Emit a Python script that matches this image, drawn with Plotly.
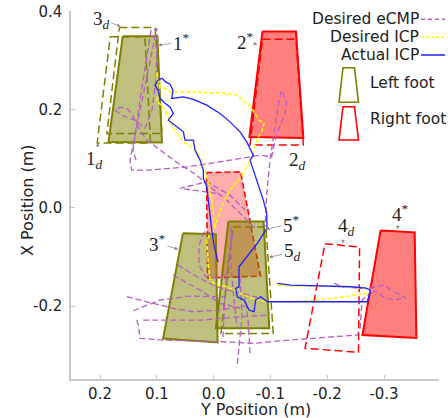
import plotly.graph_objects as go

# ---------------- data (Y position on horizontal axis, X position on vertical axis, metres) ----------------
x_ticks = [0.2, 0.1, 0.0, -0.1, -0.2, -0.3]
x_tick_text = ["0.2", "0.1", "0.0", "-0.1", "-0.2", "-0.3"]
y_ticks = [0.4, 0.2, 0.0, -0.2]
y_tick_text = ["0.4", "0.2", "0.0", "-0.2"]

# footprints (corner points)
foot_1_star = [(0.160, 0.349), (0.099, 0.349), (0.091, 0.133), (0.185, 0.134)]
foot_1_des = [(0.182, 0.348), (0.121, 0.348), (0.111, 0.132), (0.205, 0.132)]
foot_3_des = [(0.166, 0.367), (0.103, 0.367), (0.091, 0.151), (0.188, 0.151)]
foot_3_star = [(0.054, -0.052), (-0.004, -0.054), (-0.007, -0.274), (0.089, -0.266)]
foot_5_star = [(-0.026, -0.028), (-0.088, -0.028), (-0.098, -0.245), (-0.004, -0.245)]
foot_5_des = [(-0.034, -0.039), (-0.092, -0.039), (-0.105, -0.256), (-0.013, -0.256)]
foot_2_star = [(-0.086, 0.359), (-0.145, 0.359), (-0.158, 0.142), (-0.063, 0.144)]
foot_2_des = [(-0.086, 0.343), (-0.145, 0.343), (-0.158, 0.128), (-0.064, 0.128)]
foot_4_star = [(-0.294, -0.046), (-0.354, -0.050), (-0.357, -0.265), (-0.262, -0.259)]
foot_4_des = [(-0.196, -0.073), (-0.257, -0.080), (-0.255, -0.294), (-0.161, -0.286)]
foot_right_start = [(0.0125, 0.0716), (-0.0474, 0.0732), (-0.0826, -0.1389), (0.0107, -0.1430)]

# desired eCMP (pieces separated by None)
ecmp = [
    (-0.0729, -0.0413), (-0.0465, -0.0108), (-0.0231, 0.0157), (0.0063, 0.0427), (0.0298, 0.0665),
    (0.0621, 0.0903), (0.0944, 0.1174), (0.1178, 0.1377), (0.1296, 0.1580), (0.1384, 0.1784),
    (0.1472, 0.1818), (0.1560, 0.1851), (0.1618, 0.1885), (0.1736, 0.1987), (0.1648, 0.2042),
    (0.1530, 0.2022), (0.1442, 0.1920), (0.1384, 0.1784), (0.1208, 0.1621), (0.1085, 0.1987),
    (0.1014, 0.2597), (0.0997, 0.3411), (0.1002, 0.3655), (0.1472, 0.0970), (0.1442, 0.0767),
    (0.1120, 0.0767), (0.0474, 0.0834), (-0.0113, 0.0936), (-0.0817, 0.1072), (-0.1023, 0.1037),
    (-0.1081, 0.1377), (-0.1139, 0.1580), (-0.1257, 0.1920), (-0.1287, 0.2156), (-0.1199, 0.2394),
    (-0.1151, 0.2190), (-0.0993, 0.0970), (-0.0935, 0.0293), (-0.0905, -0.0386),
    None,
    (0.1102, 0.3614), (0.1296, 0.2190), (0.1419, 0.1174), (0.1366, 0.0970),
    None,
    (-0.0055, 0.0293), (0.0592, 0.0395), (0.0121, 0.0529), (-0.0289, 0.0258), (-0.0553, -0.0047),
    None,
    (-0.0007, -0.0515), (0.0169, -0.0494), (0.0257, -0.0759), (0.0257, -0.1165), (0.0151, -0.1389),
    (-0.0060, -0.1430), (-0.0218, -0.1369),
    None,
    (0.0627, -0.1165), (0.0298, -0.1403), (-0.0055, -0.1607), (-0.0324, -0.1694), (-0.0817, -0.1837),
    None,
    (0.0715, -0.1369), (0.0239, -0.1674), (-0.0113, -0.1944), (-0.0465, -0.2040),
    None,
    (0.1530, -0.1810), (0.1062, -0.1944), (0.0710, -0.2046), (0.0357, -0.2115), (-0.0113, -0.2081),
    (-0.0553, -0.1999),
    None,
    (0.1414, -0.2095), (0.0944, -0.1877), (0.0415, -0.1796), (-0.0201, -0.1816),
    None,
    (0.1238, -0.2284), (0.0768, -0.2284), (0.0181, -0.2284), (-0.0465, -0.2217), (-0.0993, -0.2182),
    None,
    (0.1354, -0.2284), (0.1326, -0.2386), (0.1296, -0.2656), (0.0886, -0.2691), (-0.0113, -0.2725),
    (-0.0699, -0.2758), (-0.1345, -0.2691), (-0.2225, -0.2609), (-0.2525, -0.2589), (-0.2577, -0.2487),
    (-0.2595, -0.2142), (-0.2613, -0.1877), (-0.2789, -0.1715),
    None,
    (-0.0465, -0.1409), (-0.0500, -0.2223), (-0.0412, -0.3240),
    None,
    (-0.0553, -0.1741), (-0.0611, -0.2351), (-0.0641, -0.2961),
    None,
    (-0.0306, -0.0393), (-0.0306, -0.1206), (-0.0359, -0.1877), (-0.0412, -0.2426),
    None,
    (-0.2120, -0.1531), (-0.2243, -0.1607), (-0.2595, -0.1639), (-0.2754, -0.1633), (-0.3000, -0.1572),
    (-0.3123, -0.1674), (-0.3387, -0.1837), (-0.3176, -0.1877), (-0.3000, -0.1816), (-0.2877, -0.1715),
    (-0.2754, -0.1674),
    None,
    (-0.0342, -0.0515), (-0.0254, -0.1064), (-0.0201, -0.1735), (-0.0165, -0.2630),
]

# desired ICP
icp_desired = [
    (-0.0025, -0.0386), (0.0033, 0.0157), (0.0093, 0.0496), (0.0151, 0.0767), (0.0239, 0.1037),
    (0.0357, 0.1208), (0.0533, 0.1342), (0.0710, 0.1621), (0.0856, 0.1987), (0.1002, 0.2190),
    (0.0944, 0.2461), (0.1002, 0.2766), (0.0979, 0.2516), (0.0768, 0.2359), (0.0357, 0.2359),
    (-0.0183, 0.2327), (-0.0417, 0.2292), (-0.0653, 0.2054), (-0.0799, 0.1784), (-0.0887, 0.1716),
    (-0.0857, 0.1581), (-0.0759, 0.1377), (-0.0699, 0.1106), (-0.0583, 0.0834), (-0.0465, 0.0604),
    (-0.0289, 0.0360), (-0.0143, 0.0020), (-0.0025, -0.0386), (0.0033, -0.0488), (0.0121, -0.0657),
    (0.0093, -0.1165), (0.0063, -0.1436), (0.0005, -0.1538), (-0.0231, -0.1607), (-0.0465, -0.1741),
    (-0.0759, -0.1877), (-0.0963, -0.1912), (-0.1357, -0.1912), (-0.1944, -0.1867), (-0.2701, -0.1741),
    (-0.2806, -0.1674), (-0.2648, -0.1639), (-0.1944, -0.1592), (-0.1345, -0.1592), (-0.1121, -0.1572),
]

# actual ICP
icp_actual = [
    (-0.0077, -0.1104), (-0.0007, -0.0759), (0.0033, -0.0454), (0.0063, -0.0114), (0.0093, 0.0157),
    (0.0121, 0.0427), (0.0181, 0.0598), (0.0181, 0.0767), (0.0239, 0.0970), (0.0327, 0.1174),
    (0.0357, 0.1377), (0.0504, 0.1377), (0.0533, 0.1546), (0.0650, 0.1647), (0.0798, 0.1784),
    (0.0710, 0.1920), (0.0768, 0.2054), (0.0856, 0.2129), (0.0944, 0.2231), (0.0979, 0.2394),
    (0.1032, 0.2495), (0.0979, 0.2597), (0.0908, 0.2638), (0.0838, 0.2556), (0.0768, 0.2516),
    (0.0715, 0.2394), (0.0738, 0.2225), (0.0533, 0.2257), (0.0357, 0.2205), (0.0121, 0.2089),
    (-0.0113, 0.1920), (-0.0289, 0.1749), (-0.0465, 0.1546), (-0.0583, 0.1342), (-0.0699, 0.1072),
    (-0.0641, 0.0970), (-0.0699, 0.0767), (-0.0787, 0.0496), (-0.0875, 0.0157), (-0.0935, -0.0114),
    (-0.0940, -0.0413), (-0.0769, -0.0724), (-0.0565, -0.1029), (-0.0447, -0.1200), (-0.0447, -0.1607),
    (-0.0389, -0.1639), (-0.0417, -0.1810), (-0.0535, -0.1877), (-0.0623, -0.2081), (-0.0711, -0.2115),
    (-0.0741, -0.1877), (-0.0829, -0.1810), (-0.0945, -0.1912), (-0.1357, -0.1912), (-0.1944, -0.1924),
    (-0.2706, -0.1912), (-0.2766, -0.1674), (-0.2683, -0.1633), (-0.2414, -0.1607), (-0.1944, -0.1592),
    (-0.1357, -0.1572), (-0.1121, -0.1538),
]

# footstep labels: (text, text_x, text_y, tip_x, tip_y)
step_labels = [
    ("1<sup>*</sup>", 0.0574, 0.3370, 0.0974, 0.3309),
    ("3<sub><i>d</i></sub>", 0.1982, 0.3830, 0.1636, 0.3696),
    ("1<sub><i>d</i></sub>", 0.2106, 0.0970, 0.2030, 0.1322),
    ("2<sup>*</sup>", -0.0562, 0.3390, -0.0769, 0.3323),
    ("2<sub><i>d</i></sub>", -0.1468, 0.0950, -0.1504, 0.1241),
    ("3<sup>*</sup>", 0.0988, -0.0718, 0.0621, -0.0846),
    ("5<sup>*</sup>", -0.1372, -0.0321, -0.0917, -0.0439),
    ("5<sub><i>d</i></sub>", -0.1380, -0.0901, -0.0975, -0.1009),
    ("4<sub><i>d</i></sub>", -0.2340, -0.0382, -0.2266, -0.0724),
    ("4<sup>*</sup>", -0.3282, -0.0098, -0.3234, -0.0439),
]

legend_lines = ["Desired eCMP", "Desired ICP", "Actual ICP"]
legend_feet = ["Left foot", "Right foot"]

# ---------------- styles ----------------
OLIVE = "#808000"
RED = "#ff0000"
PURPLE = "rgb(180,95,195)"
YELLOW = "#ffff00"
BLUE = "#1f1fff"


def unzip(points):
    xs, ys = [], []
    for p in points:
        if p is None:
            xs.append(None)
            ys.append(None)
        else:
            xs.append(p[0])
            ys.append(p[1])
    return xs, ys


def closed(points):
    xs, ys = unzip(points + [points[0]])
    return xs, ys


fig = go.Figure()


def add_foot(points, color, dash, fillcolor=None, width=2):
    xs, ys = closed(points)
    fig.add_trace(go.Scatter(
        x=xs, y=ys, mode="lines",
        line=dict(color=color, width=width, dash=dash),
        fill="toself" if fillcolor else "none",
        fillcolor=fillcolor,
        hoverinfo="skip", showlegend=False,
    ))


add_foot(foot_right_start, RED, "6px,3px", "rgba(255,0,0,0.32)", 1.6)
add_foot(foot_1_des, OLIVE, "8px,4px", None, 1.5)
add_foot(foot_3_des, OLIVE, "8px,4px", None, 1.5)
add_foot(foot_1_star, OLIVE, "solid", "rgba(128,128,0,0.5)", 2)
add_foot(foot_2_star, RED, "solid", "rgba(255,0,0,0.5)", 2)
add_foot(foot_2_des, RED, "8px,4px", None, 1.5)
add_foot(foot_3_star, OLIVE, "solid", "rgba(128,128,0,0.5)", 2)
add_foot(foot_5_star, OLIVE, "solid", "rgba(128,128,0,0.5)", 2)
add_foot(foot_5_des, OLIVE, "8px,4px", None, 1.5)
add_foot(foot_4_star, RED, "solid", "rgba(255,0,0,0.5)", 2)
add_foot(foot_4_des, RED, "8px,4px", None, 1.5)

ex, ey = unzip(ecmp)
fig.add_trace(go.Scatter(x=ex, y=ey, mode="lines", connectgaps=False,
                         line=dict(color=PURPLE, width=1.3, dash="6px,3px"),
                         hoverinfo="skip", showlegend=False))
dx, dy = unzip(icp_desired)
fig.add_trace(go.Scatter(x=dx, y=dy, mode="lines",
                         line=dict(color=YELLOW, width=1.5, dash="4px,2px"),
                         hoverinfo="skip", showlegend=False))
ax_, ay_ = unzip(icp_actual)
fig.add_trace(go.Scatter(x=ax_, y=ay_, mode="lines",
                         line=dict(color=BLUE, width=1.3),
                         hoverinfo="skip", showlegend=False))

annotations = []
for text, tx, ty, px, py in step_labels:
    annotations.append(dict(
        x=px, y=py, ax=tx, ay=ty, axref="x", ayref="y", xref="x", yref="y",
        text=text, showarrow=True, arrowhead=2, arrowsize=0.9, arrowwidth=0.8,
        arrowcolor="#8a8a8a", standoff=0, startstandoff=0,
        font=dict(family="Liberation Serif", size=19, color="#222"),
    ))

# manual legend (text left of the line samples, as in the reference)
L = 71.0
W = 368.0
B = 379.0
H = 368.0


def px_x(p):
    return (p - L) / W


def px_y(p):
    return (B - p) / H


legend_y = [19.3, 37.3, 55.0]
legend_colors = [PURPLE, YELLOW, BLUE]
legend_dash = ["4px,3px", "3px,2px", "solid"]
shapes = []
for name, yy, col, ds in zip(legend_lines, legend_y, legend_colors, legend_dash):
    annotations.append(dict(
        x=px_x(420.5), y=px_y(yy), xref="paper", yref="paper", xanchor="right", yanchor="middle",
        text=name, showarrow=False, font=dict(family="DejaVu Sans", size=15.5, color="#222"),
    ))
    shapes.append(dict(type="line", xref="paper", yref="paper",
                       x0=px_x(421), x1=px_x(445), y0=px_y(yy), y1=px_y(yy),
                       line=dict(color=col, width=1.5, dash=ds)))

icon_tops = [67.7, 106.7]
icon_bots = [102.3, 140.0]
icon_cols = [OLIVE, RED]
text_y = [83.3, 119.3]
for name, t, b, col, ty in zip(legend_feet, icon_tops, icon_bots, icon_cols, text_y):
    path = "M {} {} L {} {} L {} {} L {} {} Z".format(
        px_x(343.0), px_y(t), px_x(354.5), px_y(t), px_x(358.5), px_y(b), px_x(339.0), px_y(b))
    shapes.append(dict(type="path", xref="paper", yref="paper", path=path,
                       line=dict(color=col, width=1.6), fillcolor="rgba(0,0,0,0)"))
    annotations.append(dict(
        x=px_x(367.5), y=px_y(ty), xref="paper", yref="paper", xanchor="left", yanchor="middle",
        text=name, showarrow=False, font=dict(family="DejaVu Sans", size=15.5, color="#222"),
    ))

# axis titles
annotations.append(dict(x=0.5, y=0, xref="paper", yref="paper", yshift=-30, yanchor="middle",
                        text="Y Position (m)", showarrow=False,
                        font=dict(family="DejaVu Sans", size=16, color="#222")))
annotations.append(dict(x=0, y=0.5, xref="paper", yref="paper", xshift=-44, yshift=-5,
                        xanchor="center", yanchor="middle", textangle=-90,
                        text="X Position (m)", showarrow=False,
                        font=dict(family="DejaVu Sans", size=16, color="#222")))

axis_common = dict(showgrid=False, zeroline=False, showline=True, linecolor="#c8c8c8", linewidth=1.5,
                   ticks="inside", ticklen=4, tickcolor="#c8c8c8", tickwidth=1, automargin=False,
                   tickfont=dict(family="DejaVu Sans", size=15, color="#222"))

fig.update_layout(
    width=448, height=418,
    margin=dict(l=71, r=9, t=11, b=39, autoexpand=False),
    paper_bgcolor="white", plot_bgcolor="white",
    showlegend=False,
    xaxis=dict(range=[0.2511, -0.3968], tickvals=x_ticks, ticktext=x_tick_text, ticklabelstandoff=0,
               **axis_common),
    yaxis=dict(range=[-0.3484, 0.4005], tickvals=y_ticks, ticktext=y_tick_text, ticklabelstandoff=4,
               **axis_common),
    annotations=annotations,
    shapes=shapes,
)

fig.write_html("out.html", config={"displayModeBar": False},
               post_script="document.body.style.margin='0';document.body.style.overflow='hidden';")
